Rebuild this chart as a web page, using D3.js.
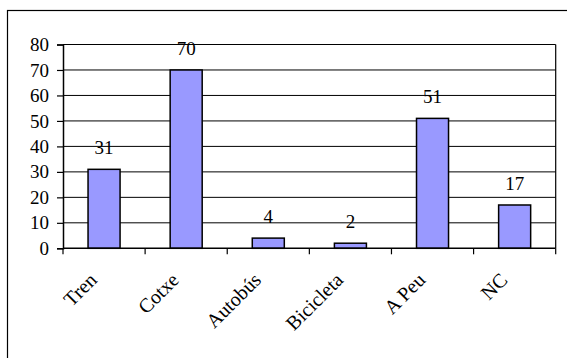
<!DOCTYPE html>
<html>
<head>
<meta charset="utf-8">
<script src="https://cdn.jsdelivr.net/npm/d3@7"></script>
<style>
  body { margin: 0; background: #fff; }
  text { font-family: "Liberation Serif", "Times New Roman", serif; fill: #000; }
</style>
</head>
<body>
<script>
var categories = ["Tren", "Cotxe", "Autobús", "Bicicleta", "A Peu", "NC"];
var values = [31, 70, 4, 2, 51, 17];
var yTicks = [0, 10, 20, 30, 40, 50, 60, 70, 80];

var W = 567, H = 358;
var margin = {left: 63, top: 44.5, right: 11.3, bottom: 109.7};
var width = W - margin.left - margin.right;
var height = H - margin.top - margin.bottom;
var fs = "19px";

var svg = d3.select("body").append("svg")
    .attr("width", W)
    .attr("height", H);

// outer frame (runs off the right and bottom edges)
svg.append("rect")
   .attr("x", 7.5).attr("y", 10.5)
   .attr("width", 600).attr("height", 400)
   .attr("fill", "none").attr("stroke", "#000").attr("stroke-width", 1.2);

var g = svg.append("g")
    .attr("transform", "translate(" + margin.left + "," + margin.top + ")");

var x = d3.scaleBand()
    .domain(categories)
    .range([0, width])
    .paddingInner(0.61)
    .paddingOuter(0.305);

var y = d3.scaleLinear()
    .domain([0, 80])
    .range([height, 0]);

// gridlines
g.selectAll(".grid").data(yTicks.slice(1))
 .enter().append("line")
 .attr("class", "grid")
 .attr("x1", 0).attr("x2", width)
 .attr("y1", d => y(d)).attr("y2", d => y(d))
 .attr("stroke", "#000").attr("stroke-width", 1);

// right border of plot
g.append("line")
 .attr("x1", width).attr("x2", width)
 .attr("y1", 0).attr("y2", height)
 .attr("stroke", "#000").attr("stroke-width", 1.2);

// bars
g.selectAll(".bar").data(values)
 .enter().append("rect")
 .attr("class", "bar")
 .attr("x", (d, i) => x(categories[i]))
 .attr("width", x.bandwidth())
 .attr("y", d => y(d))
 .attr("height", d => height - y(d))
 .attr("fill", "#9999ff")
 .attr("stroke", "#000")
 .attr("stroke-width", 1.5);

// value labels
g.selectAll(".val").data(values)
 .enter().append("text")
 .attr("class", "val")
 .attr("x", (d, i) => x(categories[i]) + x.bandwidth() / 2)
 .attr("y", d => y(d) - 15)
 .attr("text-anchor", "middle")
 .style("font-size", fs)
 .text(d => d);

// y axis
var yAxis = d3.axisLeft(y).tickValues(yTicks).tickSize(6).tickPadding(8);
var ya = g.append("g").call(yAxis);
ya.select(".domain").attr("stroke", "#000").attr("stroke-width", 1.5);
ya.selectAll("line").attr("stroke", "#000").attr("stroke-width", 1.2);
ya.selectAll("text").style("font-size", fs).style("font-family", "Liberation Serif");

// x axis: ticks at category boundaries
var bounds = d3.range(categories.length + 1).map(i => i * x.step());
var xa = g.append("g").attr("transform", "translate(0," + height + ")");
xa.append("line")
  .attr("x1", 0).attr("x2", width)
  .attr("stroke", "#000").attr("stroke-width", 1.5);
xa.selectAll(".xt").data(bounds)
  .enter().append("line")
  .attr("x1", d => d).attr("x2", d => d)
  .attr("y1", 0).attr("y2", 6)
  .attr("stroke", "#000").attr("stroke-width", 1.2);
xa.selectAll(".xl").data(categories)
  .enter().append("text")
  .attr("transform", d => "translate(" + (x(d) + x.bandwidth() / 2 - 11) + ",28) rotate(-45)")
  .attr("text-anchor", "end")
  .attr("dy", "0.35em")
  .style("font-size", "20px")
  .text(d => d);
</script>
</body>
</html>
